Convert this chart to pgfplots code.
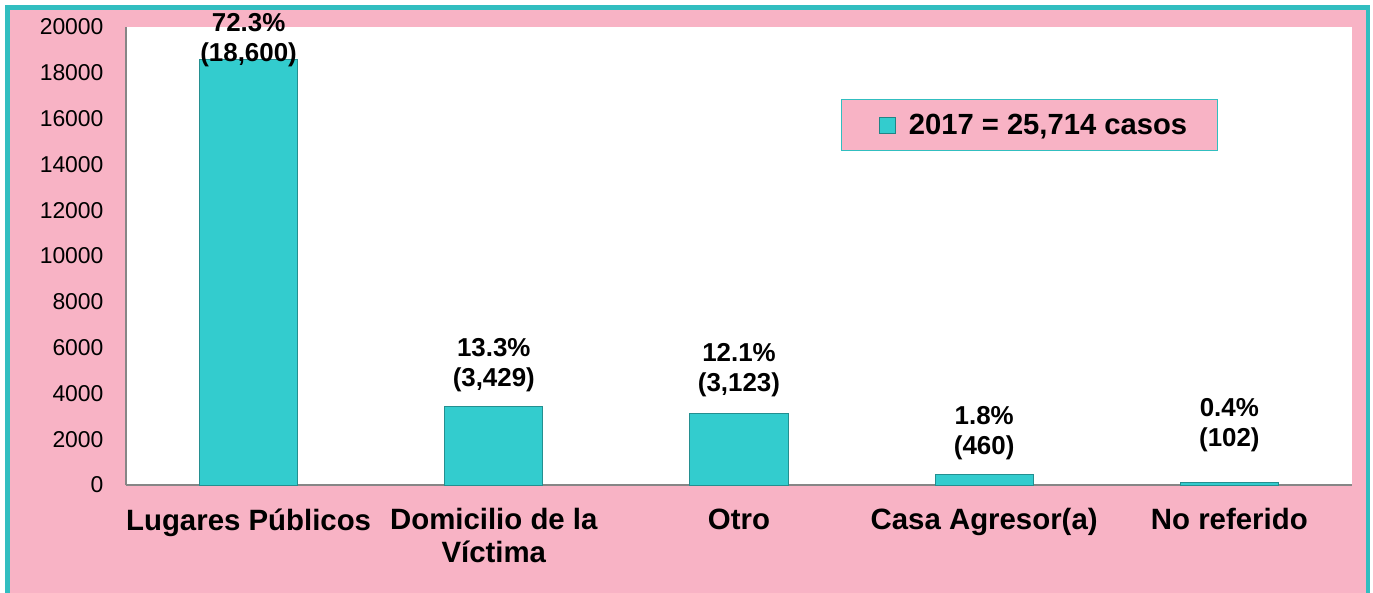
\documentclass[border=0pt]{standalone}
\usepackage{pgfplots}
\pgfplotsset{compat=1.18}
\usepackage{fontspec}
\setmainfont{Liberation Sans}
\definecolor{pinkbg}{RGB}{248,179,197}
\definecolor{frameteal}{RGB}{49,190,192}
\definecolor{barteal}{RGB}{51,204,206}
\definecolor{axgray}{RGB}{134,134,134}
\begin{document}
\begin{tikzpicture}
\useasboundingbox (0,0) rectangle (1373bp,593bp);
\fill[white] (0,0) rectangle (1373bp,593bp);
\filldraw[fill=pinkbg, draw=frameteal, line width=4.5bp] (7.5bp,-20bp) rectangle (1368bp,585.5bp);
\begin{axis}[
  at={(126bp,108bp)}, anchor=south west,
  scale only axis, width=1226bp, height=458bp,
  xmin=-0.5, xmax=4.5, ymin=0, ymax=20000,
  axis background/.style={fill=white},
  axis x line*=bottom, axis y line*=left,
  axis line style={axgray, line width=1.5bp, -},
  major tick length=0pt,
  ytick={0,2000,...,20000},
  scaled y ticks=false,
  /pgf/number format/1000 sep={},
  /pgf/number format/assume math mode=true,
  yticklabel style={font=\fontsize{23}{27}\selectfont, xshift=-19bp},
  xtick={0,...,4},
  xticklabels={Lugares Públicos, {Domicilio de la\\Víctima}, Otro, Casa Agresor(a), No referido},
  xticklabel style={font=\bfseries\fontsize{29.5}{33}\selectfont, align=center, yshift=-20bp},
  legend style={at={(0.737,0.786)}, anchor=center, fill=pinkbg, draw=frameteal, line width=1.2bp,
    font=\bfseries\fontsize{29.3}{34}\selectfont, inner xsep=28bp, inner ysep=12.5bp},
  legend image code/.code={\path (-9bp,0) (27bp,0);
    \draw[fill=barteal, draw=barteal!65!black, line width=0.7bp] (0bp,-8bp) rectangle (16bp,8bp);},
  clip=false,
]
\addplot[ybar, bar width=0.4, fill=barteal, draw=barteal!70!black, line width=1bp]
  coordinates {(0,18600) (1,3429) (2,3123) (3,460) (4,102)};
\addlegendentry{2017 = 25,714 casos}
\addplot[draw=none, mark=none, nodes near coords, point meta=explicit symbolic,
  nodes near coords align={center},
  nodes near coords style={font=\bfseries\fontsize{26}{30}\selectfont, align=center, anchor=center}]
  coordinates {(0,19432) [72.3\%\\(18,600)] (1,5218) [13.3\%\\(3,429)] (2,5000) [12.1\%\\(3,123)] (3,2249) [1.8\%\\(460)] (4,2620) [0.4\%\\(102)]};
\end{axis}
\end{tikzpicture}
\end{document}
